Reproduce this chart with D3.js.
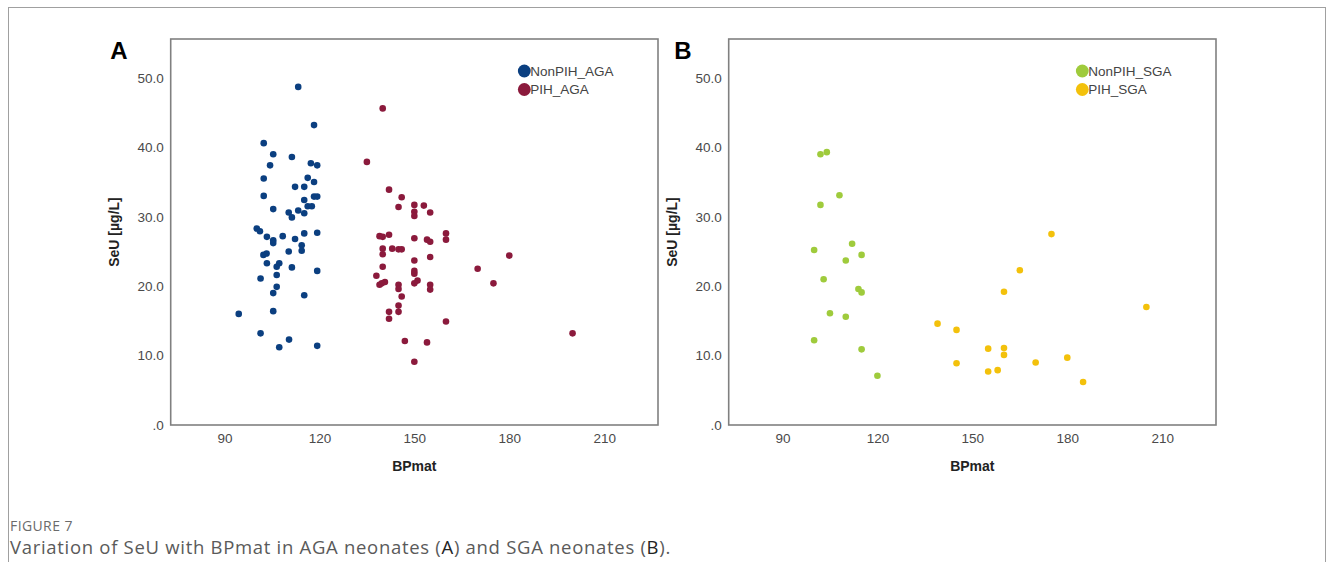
<!DOCTYPE html>
<html><head><meta charset="utf-8">
<script src="https://cdn.jsdelivr.net/npm/d3@7"></script>
<style>
html,body{margin:0;padding:0;background:#fff;}
svg{display:block;}
</style></head>
<body>
<svg id="chart" width="1327" height="562"></svg>
<script>
// ---- data ----
const xTicks = [90, 120, 150, 180, 210];
const yTicks = [0, 10, 20, 30, 40, 50];
const panelLetters = ["A", "B"];
const seriesNamesA = ["NonPIH_AGA", "PIH_AGA"];
const seriesNamesB = ["NonPIH_SGA", "PIH_SGA"];
const colorsA = ["#0b3f80", "#8b1a3c"];
const colorsB = ["#9fcb3c", "#f3c10b"];
const xTitle = "BPmat";
const yTitle = "SeU [µg/L]";
const captionLabel = "FIGURE 7";

const nonPIH_AGA = [[113.3,48.7],[118.3,43.2],[102.4,40.6],[105.4,39.0],[111.3,38.6],[104.4,37.4],[117.3,37.7],[119.3,37.4],[102.4,35.5],[116.3,35.6],[112.3,34.3],[115.2,34.3],[118.3,35.0],[102.4,33.0],[115.2,32.4],[118.3,32.9],[119.3,32.9],[116.3,31.5],[117.6,31.5],[105.4,31.1],[110.3,30.6],[111.3,29.9],[113.3,30.9],[115.2,30.5],[100.2,28.3],[101.2,27.9],[103.4,27.1],[105.4,26.6],[105.4,26.2],[108.4,27.2],[112.3,26.8],[115.2,27.6],[119.3,27.7],[114.4,25.9],[114.4,25.1],[110.3,25.0],[102.3,24.5],[103.3,24.7],[103.4,23.3],[106.5,22.8],[107.3,23.3],[111.3,22.7],[119.3,22.2],[106.5,21.6],[101.4,21.1],[106.5,19.9],[105.4,19.0],[115.2,18.7],[94.5,16.0],[105.4,16.4],[101.4,13.2],[110.4,12.3],[107.3,11.2],[119.3,11.4]];
const PIH_AGA = [[140,45.6],[135,37.9],[142,33.9],[146,32.8],[145,31.4],[150,31.7],[150,30.7],[150,30.1],[153,31.6],[155,30.6],[139,27.2],[140,27.1],[142,27.4],[160,27.6],[160,26.7],[150,26.9],[154,26.7],[155,26.4],[140,25.4],[140,24.6],[143,25.4],[145,25.3],[146,25.3],[180,24.4],[155,24.2],[150,23.7],[140,22.8],[170,22.5],[150,22.2],[150,21.8],[138,21.5],[151,20.8],[150,20.4],[140.7,20.6],[139,20.2],[139.7,20.4],[175,20.4],[145,20.2],[145,19.6],[155,20.2],[155,19.5],[146,18.5],[145,17.2],[142,16.3],[145,16.3],[142,15.3],[160,14.9],[200,13.2],[147,12.1],[154,11.9],[150,9.1]];
const nonPIH_SGA = [[102,39.0],[104,39.3],[108,33.1],[102,31.7],[112,26.1],[100,25.2],[115,24.5],[110,23.7],[103,21.0],[114,19.6],[115,19.1],[105,16.1],[110,15.6],[100,12.2],[115,10.9],[120,7.1]];
const PIH_SGA = [[175,27.5],[165,22.3],[160,19.2],[205,17.0],[139,14.6],[145,13.7],[155,11.0],[160,11.1],[160,10.1],[180,9.7],[145,8.9],[170,9.0],[155,7.7],[158,7.9],[185,6.2]];

// ---- layout ----
const svg = d3.select("#chart");
const xDomain = [73, 227];
const yDomain = [0, 55.6];
const frameTop = 39, frameBottom = 425, frameW = 487.3;

// outer figure border
svg.append("rect").attr("x", 8.5).attr("y", 7.5).attr("width", 1317).attr("height", 600)
  .attr("fill", "none").attr("stroke", "#a0a0a0").attr("stroke-width", 1);

const panels = [
  {left: 170.7, letterX: 119, series: [nonPIH_AGA, PIH_AGA], names: seriesNamesA, colors: colorsA, letter: panelLetters[0]},
  {left: 728.7, letterX: 683, series: [nonPIH_SGA, PIH_SGA], names: seriesNamesB, colors: colorsB, letter: panelLetters[1]}
];

const fmt = d => d === 0 ? ".0" : d3.format(".1f")(d);

panels.forEach(p => {
  const x = d3.scaleLinear().domain(xDomain).range([p.left, p.left + frameW]);
  const y = d3.scaleLinear().domain(yDomain).range([frameBottom, frameTop]);
  const g = svg.append("g");

  // frame
  g.append("rect").attr("x", p.left).attr("y", frameTop)
    .attr("width", frameW).attr("height", frameBottom - frameTop)
    .attr("fill", "none").attr("stroke", "#808080").attr("stroke-width", 1.6);

  // axes
  const ya = g.append("g").attr("transform", `translate(${p.left},0)`)
    .call(d3.axisLeft(y).tickValues(yTicks).tickFormat(fmt).tickSize(0).tickPadding(7));
  ya.select(".domain").remove();
  ya.selectAll("text").attr("font-family", "Liberation Sans, Arial, sans-serif")
    .attr("font-size", 13.5).attr("fill", "#4a4a4a");

  const xa = g.append("g").attr("transform", `translate(0,${frameBottom})`)
    .call(d3.axisBottom(x).tickValues(xTicks).tickSize(0).tickPadding(8));
  xa.select(".domain").remove();
  xa.selectAll("text").attr("font-family", "Liberation Sans, Arial, sans-serif")
    .attr("font-size", 13.5).attr("fill", "#4a4a4a");

  // axis titles
  g.append("text").attr("x", p.left + frameW / 2).attr("y", 471)
    .attr("text-anchor", "middle").attr("font-family", "Liberation Sans, Arial, sans-serif")
    .attr("font-weight", "bold").attr("font-size", 14).attr("fill", "#222").text(xTitle);
  g.append("text").attr("transform", `translate(${p.left - 52},${(frameTop + frameBottom) / 2}) rotate(-90)`)
    .attr("text-anchor", "middle").attr("font-family", "Liberation Sans, Arial, sans-serif")
    .attr("font-weight", "bold").attr("font-size", 14).attr("fill", "#222").text(yTitle);

  // panel letter
  g.append("text").attr("x", p.letterX).attr("y", 59).attr("text-anchor", "middle")
    .attr("font-family", "Liberation Sans, Arial, sans-serif").attr("font-weight", "bold")
    .attr("font-size", 24).attr("fill", "#000").text(p.letter);

  // points
  p.series.forEach((s, i) => {
    g.append("g").selectAll("circle").data(s).join("circle")
      .attr("cx", d => x(d[0])).attr("cy", d => y(d[1])).attr("r", 3.3)
      .attr("fill", p.colors[i]);
  });

  // legend
  const lx = p.left + 353.6;
  p.names.forEach((n, i) => {
    const ly = 71 + i * 18.5;
    g.append("circle").attr("cx", lx).attr("cy", ly).attr("r", 6.4).attr("fill", p.colors[i]);
    g.append("text").attr("x", lx + 6).attr("y", ly).attr("dy", "0.36em")
      .attr("font-family", "Liberation Sans, Arial, sans-serif").attr("font-size", 13.5)
      .attr("fill", "#444").text(n);
  });
});

// caption
svg.append("text").attr("x", 10).attr("y", 531).attr("font-family", "Open Sans, sans-serif")
  .attr("font-size", 14).attr("letter-spacing", 0.4).attr("fill", "#6b6b6b").text(captionLabel);
const cap = svg.append("text").attr("x", 10).attr("y", 554).attr("font-family", "Open Sans, sans-serif")
  .attr("font-size", 18.5).attr("letter-spacing", 0.7).attr("fill", "#5a5a5a");
cap.append("tspan").text("Variation of SeU with BPmat in AGA neonates (");
cap.append("tspan").attr("fill", "#222").text("A");
cap.append("tspan").text(") and SGA neonates (");
cap.append("tspan").attr("fill", "#222").text("B");
cap.append("tspan").text(").");
</script>
</body></html>
